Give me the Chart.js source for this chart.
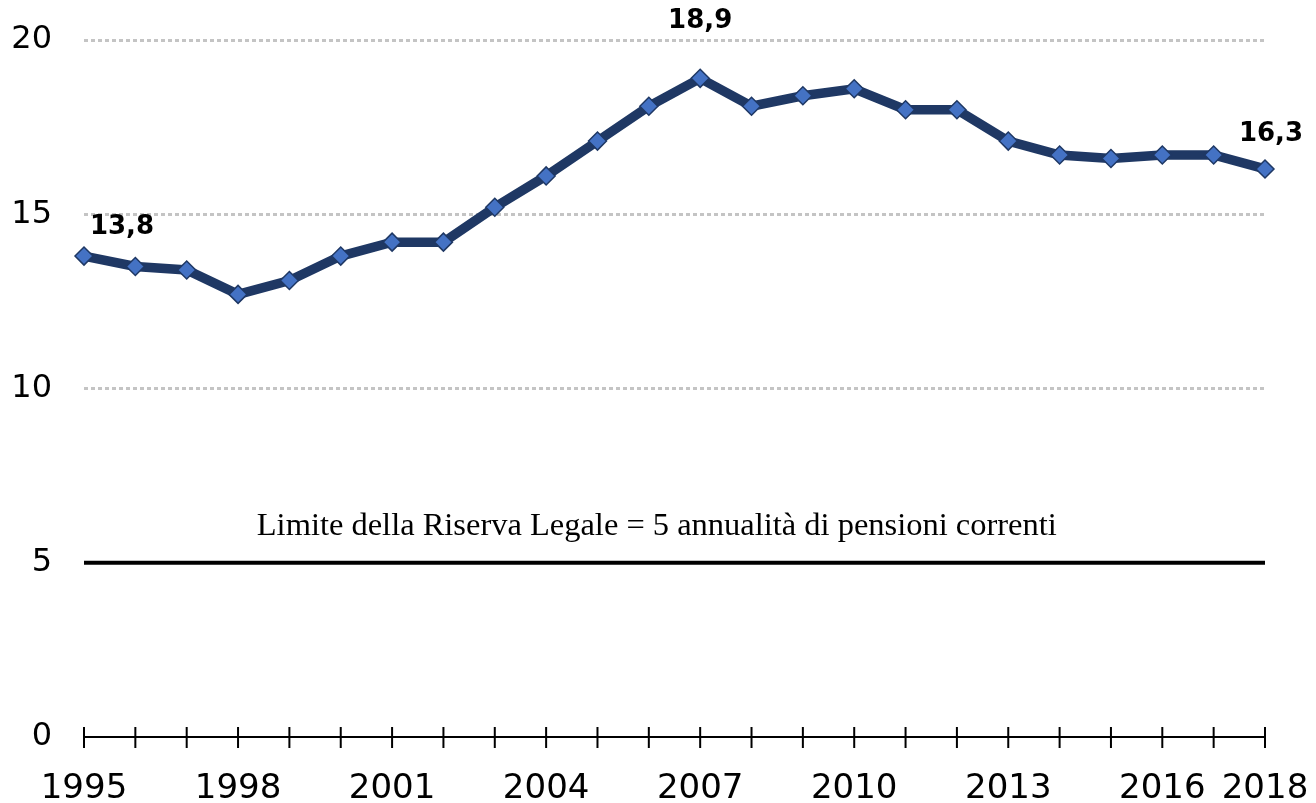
<!DOCTYPE html>
<html>
<head>
<meta charset="utf-8">
<script src="https://cdn.jsdelivr.net/npm/chart.js@4/dist/chart.umd.min.js"></script>
<style>
  html, body { margin: 0; padding: 0; background: #fff; }
</style>
</head>
<body>
<canvas id="chart" width="1316" height="803"></canvas>
<script>
// years on the x axis
var years = ['1995','1996','1997','1998','1999','2000','2001','2002','2003','2004','2005','2006',
             '2007','2008','2009','2010','2011','2012','2013','2014','2015','2016','2017','2018'];

// ratio of reserve to current pensions (annualities)
var reserveRatio = [13.8, 13.5, 13.4, 12.7, 13.1, 13.8, 14.2, 14.2, 15.2, 16.1, 17.1, 18.1,
                    18.9, 18.1, 18.4, 18.6, 18.0, 18.0, 17.1, 16.7, 16.6, 16.7, 16.7, 16.3];

// y ticks and the legal limit
var yTicks = [0, 5, 10, 15, 20];
var gridValues = [10, 15, 20];
var legalLimit = 5;
var limitText = 'Limite della Riserva Legale = 5 annualità di pensioni correnti';

// which points get a value label
var labelledPoints = [0, 12, 23];

var navy = '#1F3864';
var marker = '#4472C4';

// horizontal limit line + its caption
var limitPlugin = {
  id: 'limitLine',
  afterDatasetsDraw: function(chart) {
    var ctx = chart.ctx, area = chart.chartArea;
    var y = chart.scales.y.getPixelForValue(legalLimit);
    ctx.save();
    ctx.strokeStyle = '#000';
    ctx.lineWidth = 4;
    ctx.beginPath();
    ctx.moveTo(area.left, y);
    ctx.lineTo(area.right, y);
    ctx.stroke();

    ctx.font = '31px "Liberation Serif", serif';
    ctx.fillStyle = '#000';
    ctx.textAlign = 'center';
    ctx.textBaseline = 'alphabetic';
    var w = ctx.measureText(limitText).width;
    var target = 800;
    var cx = area.left + (area.right - area.left) * 0.485;
    ctx.translate(cx, y - 28);
    ctx.scale(target / w, 1);
    ctx.fillText(limitText, 0, 0);
    ctx.restore();
  }
};

// tick marks crossing the x axis
var crossTicks = {
  id: 'crossTicks',
  afterDraw: function(chart) {
    var ctx = chart.ctx, xs = chart.scales.x;
    var y0 = chart.scales.y.getPixelForValue(0);
    ctx.save();
    ctx.strokeStyle = '#000';
    ctx.lineWidth = 2;
    ctx.beginPath();
    for (var i = 0; i < years.length; i++) {
      var x = xs.getPixelForValue(i);
      ctx.moveTo(x, y0 - 10);
      ctx.lineTo(x, y0 + 11);
    }
    ctx.stroke();
    ctx.restore();
  }
};

// bold value labels on a few points
var valueLabels = {
  id: 'valueLabels',
  afterDatasetsDraw: function(chart) {
    var ctx = chart.ctx;
    var pts = chart.getDatasetMeta(0).data;
    var offsets = { 0: [38, -29], 12: [0, -57], 23: [6, -35] };
    ctx.save();
    ctx.font = 'bold 26px "DejaVu Sans", sans-serif';
    ctx.fillStyle = '#000';
    ctx.textAlign = 'center';
    ctx.textBaseline = 'middle';
    labelledPoints.forEach(function(i) {
      var p = pts[i];
      var o = offsets[i];
      ctx.fillText(reserveRatio[i].toFixed(1).replace('.', ','), p.x + o[0], p.y + o[1]);
    });
    ctx.restore();
  }
};

new Chart(document.getElementById('chart'), {
  type: 'line',
  data: {
    labels: years,
    datasets: [{
      data: reserveRatio,
      borderColor: navy,
      borderWidth: 9.5,
      pointStyle: 'rectRot',
      pointRadius: 9,
      pointBackgroundColor: marker,
      pointBorderColor: navy,
      pointBorderWidth: 1.5,
      tension: 0,
      clip: false
    }]
  },
  options: {
    responsive: false,
    animation: false,
    layout: { padding: { top: 40, right: 51, left: 0, bottom: 0 } },
    plugins: { legend: { display: false }, tooltip: { enabled: false } },
    scales: {
      x: {
        offset: false,
        grid: { display: false, drawTicks: false },
        border: { display: true, color: '#000', width: 2 },
        ticks: {
          autoSkip: false,
          maxRotation: 0,
          padding: 32,
          color: '#000',
          font: { family: '"DejaVu Sans", sans-serif', size: 34 },
          callback: function(v, i) {
            return (i % 3 === 0 || i === years.length - 1) ? years[i] : '';
          }
        },
        afterFit: function(s) {
          s.height = 66;
          s.paddingLeft = 0;
          s.paddingRight = 0;
        }
      },
      y: {
        min: 0,
        max: 20,
        afterBuildTicks: function(s) {
          s.ticks = yTicks.map(function(v) { return { value: v }; });
        },
        grid: {
          drawTicks: false,
          lineWidth: 3,
          color: function(c) {
            return gridValues.indexOf(c.tick.value) >= 0 ? '#C4C4C4' : 'rgba(0,0,0,0)';
          }
        },
        border: { display: false, dash: [4, 3] },
        ticks: {
          padding: 32,
          color: '#000',
          font: { family: '"DejaVu Sans", sans-serif', size: 32 }
        },
        afterFit: function(s) {
          s.width = 84;
          s.paddingTop = 0;
          s.paddingBottom = 0;
        }
      }
    }
  },
  plugins: [limitPlugin, valueLabels, crossTicks]
});
</script>
</body>
</html>
